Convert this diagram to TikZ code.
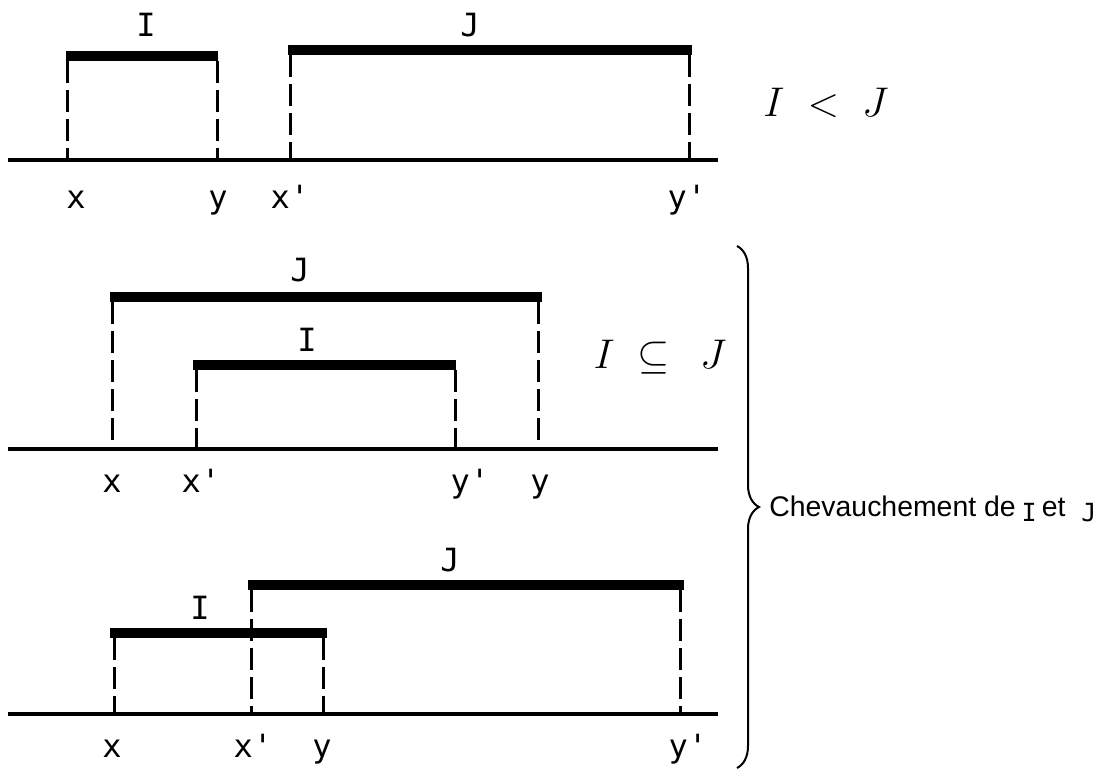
\documentclass[tikz,border=0pt]{standalone}
\usepackage{fontspec}
\setsansfont{Liberation Sans}
\setmonofont{DejaVu Sans Mono}
\usetikzlibrary{decorations.pathreplacing}

\begin{document}
\begin{tikzpicture}[x=0.5pt, y=-0.5pt,
  axis/.style={line width=2pt},
  bar/.style={line width=5pt},
  guide/.style={line width=1.5pt, dash pattern=on 11pt off 3.5pt},
  lbl/.style={font=\ttfamily\fontsize{16}{18}\selectfont, inner sep=0pt, anchor=base},
  rel/.style={font=\fontsize{22}{26}\selectfont, inner sep=0pt}
]
  \useasboundingbox (0,0) rectangle (1103,771);

  % I < J
  \coordinate (axisA) at (8,160);   \coordinate (axisAend) at (718,160);
  \coordinate (iA) at (66,56);      \coordinate (iAend) at (218,56);
  \coordinate (jA) at (288,50);     \coordinate (jAend) at (692,50);
  \draw[axis] (axisA) -- (axisAend);
  \draw[bar] (iA) -- (iAend);
  \draw[bar] (jA) -- (jAend);
  \draw[guide] ([xshift=0.5pt,yshift=-2.5pt]iA) -- ([xshift=0.5pt]iA |- axisA);
  \draw[guide] ([xshift=-0.5pt,yshift=-2.5pt]iAend) -- ([xshift=-0.5pt]iAend |- axisA);
  \draw[guide] ([xshift=1pt,yshift=-2.5pt]jA) -- ([xshift=1pt]jA |- axisA);
  \draw[guide] ([xshift=-1.5pt,yshift=-2.5pt]jAend) -- ([xshift=-1.5pt]jAend |- axisA);
  \node[lbl] (lblIA) at (146,36.5) {I};
  \node[lbl] (lblJA) at (470,36.5) {J};
  \node[lbl] (xA) at (76,208) {x};
  \node[lbl] (yA) at (218,208) {y};
  \node[lbl] (xpA) at (290,208) {x'};
  \node[lbl] (ypA) at (687,208) {y'};
  \node[rel] (before) at (826,103) {$I\;<\;J$};

  % I inclus dans J
  \coordinate (axisB) at (8,449);   \coordinate (axisBend) at (718,449);
  \coordinate (jB) at (110,297);    \coordinate (jBend) at (542,297);
  \coordinate (iB) at (193,365);    \coordinate (iBend) at (456,365);
  \draw[axis] (axisB) -- (axisBend);
  \draw[bar] (jB) -- (jBend);
  \draw[bar] (iB) -- (iBend);
  \draw[guide] ([xshift=1pt,yshift=-2.5pt]jB) -- ([xshift=1pt]jB |- axisB);
  \draw[guide] ([xshift=-2pt,yshift=-2.5pt]jBend) -- ([xshift=-2pt]jBend |- axisB);
  \draw[guide] ([xshift=1.5pt,yshift=-2.5pt]iB) -- ([xshift=1.5pt]iB |- axisB);
  \draw[guide] ([xshift=-0.5pt,yshift=-2.5pt]iBend) -- ([xshift=-0.5pt]iBend |- axisB);
  \node[lbl] (lblJB) at (300,281.5) {J};
  \node[lbl] (lblIB) at (307,351.5) {I};
  \node[lbl] (xB) at (112,492) {x};
  \node[lbl] (xpB) at (201,492) {x'};
  \node[lbl] (ypB) at (470,492) {y'};
  \node[lbl] (yB) at (540,492) {y};
  \node[rel] (inside) at (660,357) {$I\;\subseteq\;\,J$};

  % I et J se chevauchent
  \coordinate (axisC) at (8,714);   \coordinate (axisCend) at (718,714);
  \coordinate (jC) at (248,585);    \coordinate (jCend) at (684,585);
  \coordinate (iC) at (110,633);    \coordinate (iCend) at (327,633);
  \draw[axis] (axisC) -- (axisCend);
  \draw[bar] (jC) -- (jCend);
  \draw[bar] (iC) -- (iCend);
  \draw[guide] ([xshift=1.5pt,yshift=-2.5pt]jC) -- ([xshift=1.5pt]jC |- axisC);
  \draw[guide] ([xshift=-2pt,yshift=-2.5pt]jCend) -- ([xshift=-2pt]jCend |- axisC);
  \draw[guide] ([xshift=2pt,yshift=-2.5pt]iC) -- ([xshift=2pt]iC |- axisC);
  \draw[guide] ([xshift=-2pt,yshift=-2.5pt]iCend) -- ([xshift=-2pt]iCend |- axisC);
  \node[lbl] (lblJC) at (450,571.5) {J};
  \node[lbl] (lblIC) at (200,619.5) {I};
  \node[lbl] (xC) at (112,757) {x};
  \node[lbl] (xpC) at (253,757) {x'};
  \node[lbl] (yC) at (322,757) {y};
  \node[lbl] (ypC) at (688,757) {y'};

  % accolade
  \coordinate (braceTop) at (737,246);
  \coordinate (braceBot) at (737,768);
  \draw[line width=1pt, decorate, decoration={brace, amplitude=11pt}] (braceTop) -- (braceBot);
  \node[anchor=west, inner sep=0pt, font=\sffamily\fontsize{14.2}{17}\selectfont] (overlap) at (769,509)
    {Chevauchement de\hspace{3pt}\raisebox{-2.5pt}{\ttfamily\fontsize{12.5}{15}\selectfont I}\hspace{2.5pt}et\hspace{8pt}\raisebox{-2.5pt}{\ttfamily\fontsize{12.5}{15}\selectfont J}};
\end{tikzpicture}
\end{document}
